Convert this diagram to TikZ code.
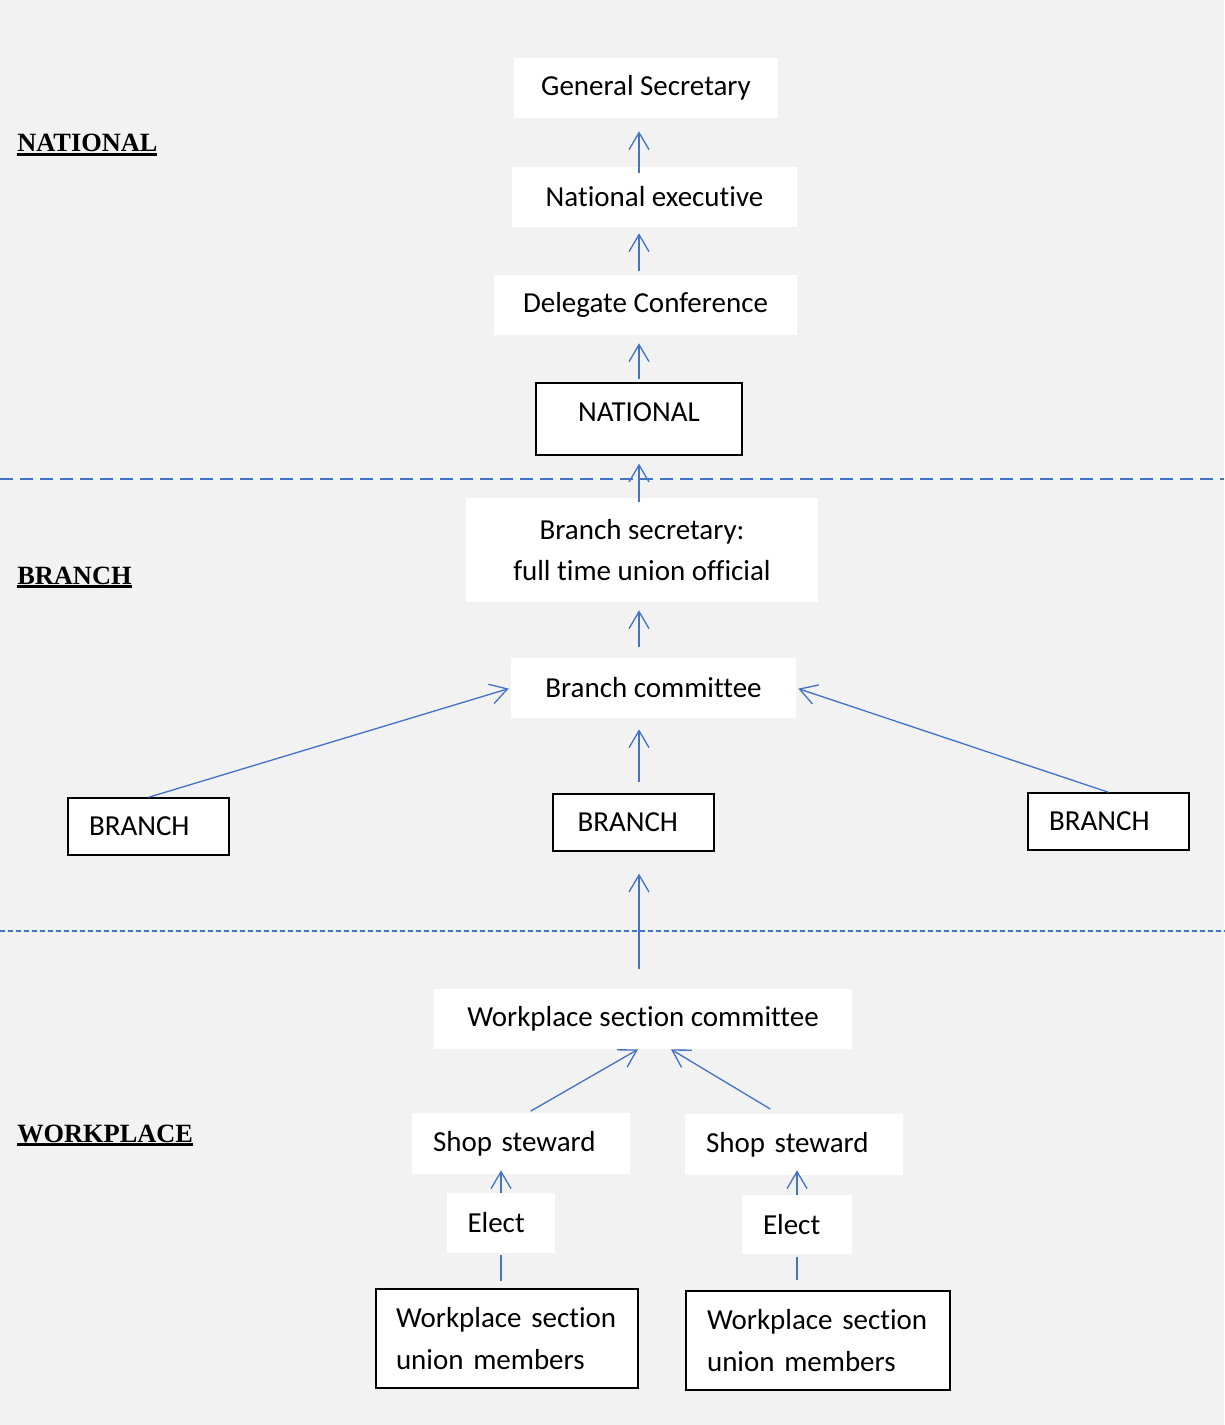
\documentclass[tikz,border=0pt]{standalone}
\usepackage{fontspec}
\setmainfont{Carlito}[Ligatures={NoCommon, NoContextual, NoRequired}]
\newfontfamily\levelfont{Liberation Serif}
\usepackage{tikz}
\usetikzlibrary{arrows.meta, positioning, calc}
\definecolor{pagegray}{RGB}{242, 242, 242}
\definecolor{linkblue}{RGB}{68, 114, 196}
\newcommand{\levelname}[1]{\setbox0\hbox{#1}\rlap{\rule[-2.3pt]{\wd0}{1.7pt}}\box0}

\begin{document}
\begin{tikzpicture}[x=0.02cm, y=-0.02cm,
    plainbox/.style={fill=white, inner sep=0pt, align=center, font=\fontsize{16.5}{23.5}\selectfont},
    framebox/.style={plainbox, draw=black, line width=0.8pt},
    uparrow/.style={linkblue, line width=0.75pt, -{Straight Barb[length=0.34cm, width=0.4cm]}},
    link/.style={linkblue, line width=0.75pt},
    levellabel/.style={anchor=base west, inner sep=0pt, font=\levelfont\bfseries\fontsize{15}{18}\selectfont}]

    % Page
    \useasboundingbox (0, 0) rectangle (1224, 1425);
    \fill[pagegray] (0, 0) rectangle (1224, 1425);

    % Level separators
    \draw[linkblue, line width=1.1pt, dash pattern=on 0.26cm off 0.14cm] (0, 479) -- (1224, 479);
    \draw[linkblue, line width=0.7pt, dash pattern=on 0.1cm off 0.06cm] (0, 931) -- (1224, 931);

    % Level labels
    \node[levellabel] (lvnational) at (17, 152) {\levelname{NATIONAL}};
    \node[levellabel] (lvbranch) at (17, 584) {\levelname{BRANCH}};
    \node[levellabel] (lvworkplace) at (17, 1142) {\levelname{WORKPLACE}};

    % National
    \node[plainbox, minimum width=5.28cm, minimum height=1.2cm] (gensec) at (646, 88) {General Secretary};
    \node[plainbox, minimum width=5.7cm, minimum height=1.2cm] (natexec) at (654.5, 197) {National executive};
    \node[plainbox, minimum width=6.06cm, minimum height=1.2cm] (delconf) at (645.5, 305) {Delegate Conference};
    \node[framebox, minimum width=4.12cm, text height=0.78cm, text depth=0.66cm] (national) at (639, 419) {NATIONAL};

    % Branch
    \node[plainbox, minimum width=7.04cm, minimum height=2.08cm] (branchsec) at (642, 550) {Branch secretary:\\full time union official};
    \node[plainbox, minimum width=5.7cm, minimum height=1.2cm] (branchcom) at (653.5, 688) {Branch committee};
    \node[framebox, align=left, text width=2.38cm, inner xsep=0.42cm, minimum height=1.14cm] (branchL) at (148.5, 826.5) {BRANCH};
    \node[framebox, align=left, text width=2.24cm, inner xsep=0.49cm, minimum height=1.14cm] (branchM) at (633.5, 822.5) {BRANCH};
    \node[framebox, align=left, text width=2.38cm, inner xsep=0.42cm, minimum height=1.14cm] (branchR) at (1108.5, 821.5) {BRANCH};

    % Workplace
    \node[plainbox, minimum width=8.36cm, minimum height=1.2cm] (wsc) at (643, 1019) {Workplace section committee};
    \node[plainbox, align=left, text width=3.52cm, inner xsep=0.42cm, minimum height=1.22cm] (stewardL) at (521, 1143.5) {Shop steward};
    \node[plainbox, align=left, text width=3.52cm, inner xsep=0.42cm, minimum height=1.22cm] (stewardR) at (794, 1144.5) {Shop steward};
    \node[plainbox, align=left, text width=1.34cm, inner xsep=0.42cm, minimum height=1.2cm] (electL) at (501, 1223) {Elect};
    \node[plainbox, align=left, text width=1.36cm, inner xsep=0.42cm, minimum height=1.18cm] (electR) at (797, 1224.5) {Elect};
    \node[framebox, align=left, text width=4.44cm, inner xsep=0.4cm, minimum height=1.98cm] (membersL) at (507, 1338.5) {\mbox{Workplace section}\\union members};
    \node[framebox, align=left, text width=4.44cm, inner xsep=0.42cm, minimum height=1.98cm] (membersR) at (818, 1340.5) {\mbox{Workplace section}\\union members};

    % Upward links
    \draw[uparrow, shorten <=-0.12cm, shorten >=0.26cm] (natexec.north -| national) -- (gensec.south -| national);
    \draw[uparrow, shorten <=0.08cm, shorten >=0.12cm] (delconf.north -| national) -- (natexec.south -| national);
    \draw[uparrow, shorten <=0.06cm, shorten >=0.16cm] (national.north) -- (delconf.south -| national);
    \draw[uparrow, shorten <=-0.08cm, shorten >=0.16cm] (branchsec.north -| national) -- (national.south);
    \draw[uparrow, shorten <=0.22cm, shorten >=0.16cm] (branchcom.north -| national) -- (branchsec.south -| national);
    \draw[uparrow, shorten >=0.04cm] (branchL.north) -- (branchcom.west);
    \draw[uparrow, shorten <=0.22cm, shorten >=0.22cm] (branchM.north -| national) -- (branchcom.south -| national);
    \draw[uparrow, shorten >=0.04cm] (branchR.north) -- (branchcom.east);
    \draw[uparrow, shorten <=0.4cm, shorten >=0.44cm] (wsc.north -| national) -- (branchM.south -| national);
    \draw[uparrow, shorten <=0.06cm] ($(stewardL.north)+(7, 0)$) -- ($(wsc.south)+(-5, 0)$);
    \draw[uparrow, shorten <=0.18cm] ($(stewardR.north)+(-16, 0)$) -- ($(wsc.south)+(28, 0)$);
    \draw[uparrow, shorten >=-0.08cm] (electL.north) -- (stewardL.south -| electL);
    \draw[uparrow, shorten >=-0.1cm] (electR.north) -- (stewardR.south -| electR);
    \draw[link, shorten <=0.14cm, shorten >=0.04cm] (membersL.north -| electL) -- (electL.south);
    \draw[link, shorten <=0.2cm, shorten >=0.06cm] (membersR.north -| electR) -- (electR.south);

\end{tikzpicture}
\end{document}
